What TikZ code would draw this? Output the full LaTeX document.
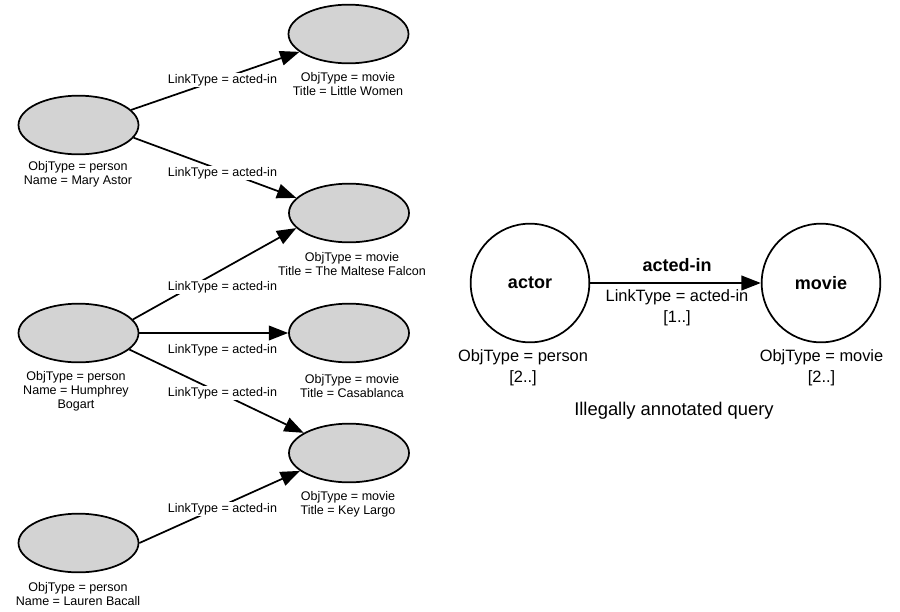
\documentclass[tikz,border=0pt]{standalone}
\usepackage{fontspec}
\setmainfont{Liberation Sans}
\usetikzlibrary{arrows.meta,shapes.geometric}
\definecolor{objgray}{RGB}{211,211,211}
\begin{document}
\begin{tikzpicture}[x=0.75pt,y=-0.75pt,
  obj/.style={ellipse, draw=black, line width=1.3pt, fill=objgray, minimum width=90pt, minimum height=44pt, inner sep=0pt},
  qnode/.style={circle, draw=black, line width=1.3pt, minimum size=89pt, inner sep=0pt, font=\fontsize{13.5}{16}\selectfont\bfseries},
  small/.style={font=\fontsize{9.4}{10.5}\selectfont, align=center, inner sep=0pt},
  big/.style={font=\fontsize{12.3}{15.75}\selectfont, align=center, inner sep=0pt},
  lbl/.style={small, fill=white, inner sep=1pt},
  link/.style={line width=1.3pt, -{Triangle[length=14.5pt,width=11pt]}}
]
\useasboundingbox (0,0) rectangle (900,611);

% left graph nodes
\node[obj] (mary) at (78.5,125) {};
\node[obj] (lw) at (348.5,34) {};
\node[obj] (maltese) at (349,213) {};
\node[obj] (bogart) at (78.5,333) {};
\node[obj] (casa) at (349,333) {};
\node[obj] (kl) at (349,453) {};
\node[obj] (bacall) at (78.5,543) {};

% edges
\draw[link] (mary.16) -- (lw.200);
\draw[link] (mary.-13) -- (maltese.164);
\draw[link] (bogart.14) -- (maltese.196);
\draw[link] (bogart.east) -- (casa.west);
\draw[link] (bogart.-18) -- (kl.156);
\draw[link] (bacall.east) -- (kl.200);

% edge labels
\node[lbl] (l1) at (222.5,80) {LinkType = acted-in};
\node[lbl] (l2) at (222.5,173) {LinkType = acted-in};
\node[lbl] (l3) at (222.5,287) {LinkType = acted-in};
\node[lbl] (l4) at (222.5,350) {LinkType = acted-in};
\node[lbl] (l5) at (222.5,393) {LinkType = acted-in};
\node[lbl] (l6) at (222.5,509) {LinkType = acted-in};

% node annotations
\node[small] (maryT) at (78,174) {ObjType = person\\Name = Mary Astor};
\node[small] (lwT) at (348,84) {ObjType = movie\\Title = Little Women};
\node[small] (malT) at (352,264) {ObjType = movie\\Title = The Maltese Falcon};
\node[small] (bogT) at (76,391) {ObjType = person\\Name = Humphrey\\Bogart};
\node[small] (casaT) at (352,386) {ObjType = movie\\Title = Casablanca};
\node[small] (klT) at (348,504) {ObjType = movie\\Title = Key Largo};
\node[small] (bacT) at (78,594) {ObjType = person\\Name = Lauren Bacall};

% query graph
\node[qnode] (actor) at (530,283) {actor};
\node[qnode] (movie) at (821,283) {movie};
\draw[link] (actor) -- (movie);
\node[font=\fontsize{13.5}{16}\selectfont\bfseries, inner sep=0pt] (qlbl) at (677,265) {acted-in};
\node[big] (qlt) at (677,307.5) {LinkType = acted-in\\{}[1..]};
\node[big] (actT) at (523,368) {ObjType = person\\{}[2..]};
\node[big] (movT) at (821.5,368) {ObjType = movie\\{}[2..]};
\node[font=\fontsize{13.8}{16}\selectfont, inner sep=0pt] (cap) at (674,411) {Illegally annotated query};
\end{tikzpicture}
\end{document}
